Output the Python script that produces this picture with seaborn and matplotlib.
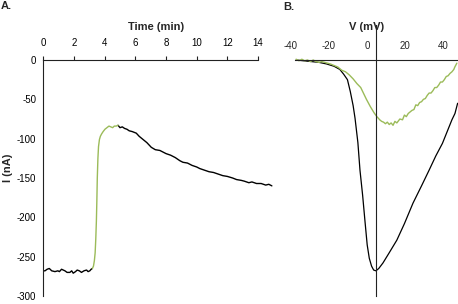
import matplotlib
matplotlib.use("Agg")
import matplotlib.pyplot as plt
import seaborn as sns
from matplotlib.transforms import ScaledTranslation
from matplotlib.ticker import FuncFormatter

# ---------------- Panel A data (time course) ----------------
time_base = [0, 0.11, 0.25, 0.39, 0.55, 0.76, 0.95, 1.05, 1.19, 1.3, 1.41, 1.55,
             1.73, 1.85, 1.95, 2.1, 2.21, 2.35, 2.49, 2.65, 2.82, 2.92, 3.03,
             3.12, 3.2]
current_base = [-268, -268, -266, -265, -268, -269, -268, -269, -266, -267, -268,
                -270, -270, -268, -271, -269, -267, -268, -270, -268, -267, -269,
                -268, -266, -265]

time_rise = [3.2, 3.27, 3.33, 3.38, 3.42, 3.46, 3.49, 3.52, 3.56, 3.6, 3.66, 3.72,
             3.8, 3.9, 4.02, 4.15, 4.28, 4.4, 4.52, 4.63, 4.75, 4.87]
current_rise = [-265, -262, -255, -245, -228, -205, -180, -150, -125, -110, -101,
                -97, -94, -91, -88, -86, -84, -85, -86, -84, -84, -83]

time_decay = [4.87, 5.0, 5.15, 5.3, 5.45, 5.6, 5.8, 6.06, 6.25, 6.5, 6.75, 7.04,
              7.3, 7.6, 7.8, 8.0, 8.3, 8.6, 8.9, 9.1, 9.4, 9.7, 10.0, 10.2, 10.5,
              10.8, 11.1, 11.4, 11.7, 12.0, 12.34, 12.6, 12.9, 13.1, 13.4, 13.6,
              13.9, 14.2, 14.5, 14.7, 14.9]
current_decay = [-83, -86, -85, -87, -88, -90, -91, -93, -97, -101, -105, -111,
                 -114, -115, -117, -119, -121, -124, -128, -130, -131, -134, -136,
                 -138, -140, -142, -143, -145, -147, -148, -150, -152, -153, -154,
                 -156, -155, -157, -157, -159, -158, -160]

time_ticks = [0, 2, 4, 6, 8, 10, 12, 14]
current_ticks = [0, -50, -100, -150, -200, -250, -300]

# ---------------- Panel B data (I-V curves) ----------------
v_black = [-42, -38, -34, -30, -26, -22, -19, -17, -15, -13.5, -12, -11, -9.5,
           -8.4, -7, -5.8, -4.6, -3.5, -2.3, -1.2, 0, 1.5, 3.7, 7, 11, 15, 19.5,
           24, 28, 31.5, 35, 38, 40, 41.6, 43]
i_black = [0, -1, -2, -3, -5, -8, -12, -18, -25, -40, -58, -74, -105, -140, -172,
           -204, -235, -252, -262, -267, -268, -265, -258, -245, -229, -208, -182,
           -160, -140, -122, -106, -88, -76, -68, -55]

v_green = [-42, -40.5, -39, -37.5, -36, -34.5, -33, -31.5, -30, -28.5, -27, -25.5,
           -24, -22, -20, -18, -16, -14, -12, -10, -8, -7, -5, -3, -1, 0.5, 2,
           3, 4, 5, 6, 7, 8, 9, 10, 11, 12.6, 14, 15, 16, 17, 18, 19, 20, 21, 22,
           23, 24, 25, 26, 27, 28, 29, 30, 31, 32, 33, 34, 35, 36, 37, 38, 39,
           40, 41, 41.5, 42.6]
i_green = [1, -1, 1, -1, 0, -2, 0, -2, -3, -2, -3, -4, -5, -7, -9, -13, -15, -19,
           -24, -30, -35, -40, -50, -59, -67, -72, -76, -78, -79, -81, -79, -82,
           -80, -83, -78, -80, -75, -76, -70, -72, -68, -66, -64, -63, -57, -58,
           -54, -53, -50, -49, -45, -42, -42, -39, -35, -35, -32, -28, -28, -25,
           -21, -20, -17, -15, -12, -9, -4]

voltage_ticks = [-40, -20, 0, 20, 40]

# ---------------- Style ----------------
sns.set_style("white")
plt.rcParams['font.family'] = ['Liberation Sans', 'DejaVu Sans']
plt.rcParams['axes.unicode_minus'] = False

GREEN = '#9bbb59'
AXC = '#222222'

W, H = 458, 304
fig = plt.figure(figsize=(W / 100, H / 100), dpi=100)


def rect(x0, y0, x1, y1):
    return [x0 / W, 1 - y1 / H, (x1 - x0) / W, (y1 - y0) / H]


axA = fig.add_axes(rect(43.3, 60, 273.4, 296))
axB = fig.add_axes(rect(295, 25, 458, 296))

fmt = FuncFormatter(lambda v, p: f"{int(round(v))}")

# ---------------- Panel A ----------------
sns.lineplot(x=time_base, y=current_base, ax=axA, color='black', lw=1.0,
             estimator=None, sort=False)
sns.lineplot(x=time_decay, y=current_decay, ax=axA, color='black', lw=1.0,
             estimator=None, sort=False)
sns.lineplot(x=time_rise, y=current_rise, ax=axA, color=GREEN, lw=1.0,
             estimator=None, sort=False)

axA.set_xlim(0, 15)
axA.set_ylim(-300, 0)
axA.xaxis.set_ticks_position('top')
axA.set_xticks(time_ticks)
axA.set_yticks(current_ticks)
axA.xaxis.set_major_formatter(fmt)
axA.yaxis.set_major_formatter(fmt)
for s in ['right', 'bottom']:
    axA.spines[s].set_visible(False)
axA.spines['top'].set_bounds(0, 14)
for s in ['top', 'left']:
    axA.spines[s].set_linewidth(0.8)
    axA.spines[s].set_color(AXC)
axA.tick_params(axis='x', direction='out', length=3, width=0.8, pad=5.8,
                labelsize=7, colors=AXC, labelcolor='black')
axA.tick_params(axis='y', direction='out', length=3, width=0.8, pad=2,
                labelsize=7, colors=AXC, labelcolor='black')
axA.set_xlabel('')
axA.set_ylabel('')
axA.patch.set_alpha(0)

# ---------------- Panel B ----------------
sns.lineplot(x=v_black, y=i_black, ax=axB, color='black', lw=0.9,
             estimator=None, sort=False)
sns.lineplot(x=v_green, y=i_green, ax=axB, color=GREEN, lw=1.0,
             estimator=None, sort=False)

axB.set_xlim(-42.6, 43.2)
axB.set_ylim(-300, 44.5)
axB.spines['top'].set_position(('data', 0))
axB.spines['left'].set_position(('data', 0))
for s in ['right', 'bottom']:
    axB.spines[s].set_visible(False)
for s in ['top', 'left']:
    axB.spines[s].set_linewidth(0.8)
    axB.spines[s].set_color(AXC)
axB.xaxis.set_ticks_position('top')
axB.set_xticks(voltage_ticks)
axB.xaxis.set_major_formatter(fmt)
axB.set_yticks([])
axB.tick_params(axis='x', length=0, pad=6.3, labelsize=7)
axB.set_xlabel('')
axB.set_ylabel('')
axB.patch.set_alpha(0)

# shift the "0" label left of the vertical axis line, as in the reference
for tick in axB.xaxis.get_major_ticks():
    if abs(tick.get_loc()) < 1e-9:
        tick.label2.set_transform(tick.label2.get_transform() +
                                  ScaledTranslation(-9 / 100, 0, fig.dpi_scale_trans))

# ---------------- Texts ----------------
fig.text(156 / W, 1 - 27 / H, 'Time (min)', ha='center', va='center',
         fontsize=8, fontweight='bold')
fig.text(367 / W, 1 - 27 / H, 'V (mV)', ha='center', va='center',
         fontsize=8, fontweight='bold')
fig.text(8 / W, 1 - 168 / H, 'I (nA)', ha='center', va='center', rotation=90,
         fontsize=8, fontweight='bold')
fig.text(1 / W, 1 - 6 / H, 'A.', ha='left', va='center', fontsize=8,
         fontweight='bold')
fig.text(283 / W, 1 - 7 / H, 'B.', ha='left', va='center', fontsize=8,
         fontweight='bold')

fig.savefig('out.png', dpi=100)
